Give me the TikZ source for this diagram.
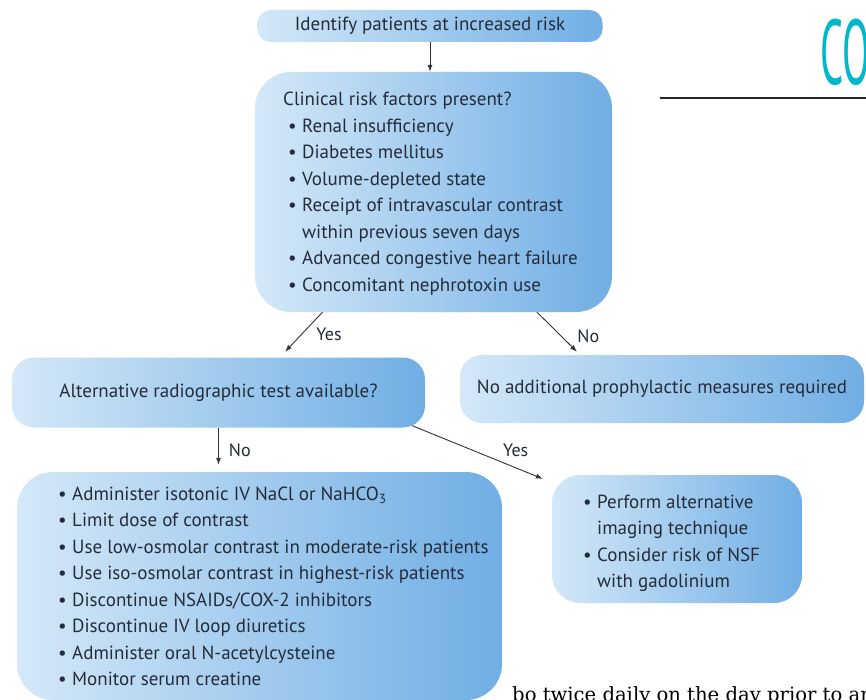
\documentclass[tikz,border=0pt]{standalone}
\usepackage{fontspec}
\setsansfont{PT Sans}
\newfontfamily\pagefont{DejaVu Serif}
\usetikzlibrary{positioning,arrows.meta}

\definecolor{boxlight}{RGB}{212,232,248}
\definecolor{boxdark}{RGB}{112,174,228}
\definecolor{inktext}{RGB}{36,44,58}
\definecolor{coteal}{RGB}{0,184,200}

\newcommand{\bul}{\makebox[14pt][l]{\textbullet}}
\newcommand{\hang}{\makebox[14pt]{}}

\tikzset{
    flowbox/.style={rounded corners=#1, left color=boxlight, right color=boxdark, draw=none,
        text=inktext, font=\sffamily\fontsize{19}{22}\selectfont, inner sep=0pt},
    listtext/.style={text=inktext, font=\sffamily\fontsize{19}{26.5}\selectfont,
        align=left, inner sep=0pt},
    flowarrow/.style={-{Latex[length=7pt,width=5pt]}, line width=0.9pt, black!80},
    answer/.style={text=inktext, font=\sffamily\fontsize{18}{20}\selectfont, inner sep=0pt}
}

\begin{document}
\begin{tikzpicture}[x=1pt,y=-1pt]
    \clip (0,0) rectangle (866,700);
    \fill[white] (0,0) rectangle (866,700);

    \node[flowbox=13pt, minimum width=345pt, minimum height=32pt] (risk) at (430,26) {Identify patients at increased risk};
    \node[flowbox=36pt, minimum width=357pt, minimum height=240pt] (clin) at (433.5,192) {};
    \node[listtext, anchor=north west] (clinlist) at (283,92) {Clinical risk factors present?\\
        \hspace*{5pt}\bul Renal insufficiency\\
        \hspace*{5pt}\bul Diabetes mellitus\\
        \hspace*{5pt}\bul Volume-depleted state\\
        \hspace*{5pt}\bul Receipt of intravascular contrast\\
        \hspace*{5pt}\hang within previous seven days\\
        \hspace*{5pt}\bul Advanced congestive heart failure\\
        \hspace*{5pt}\bul Concomitant nephrotoxin use};

    \node[flowbox=22pt, minimum width=413pt, minimum height=70pt] (alt) at (218.5,392.5) {Alternative radiographic test available?};
    \node[flowbox=22pt, minimum width=404pt, minimum height=68pt] (noadd) at (662,389) {No additional prophylactic measures required};

    \node[flowbox=36pt, minimum width=485pt, minimum height=228pt] (prev) at (259.5,586) {};
    \node[listtext, anchor=north west] (prevlist) at (58,486.5) {\bul Administer isotonic IV NaCl or NaHCO\textsubscript{3}\\
        \bul Limit dose of contrast\\
        \bul Use low-osmolar contrast in moderate-risk patients\\
        \bul Use iso-osmolar contrast in highest-risk patients\\
        \bul Discontinue NSAIDs/COX-2 inhibitors\\
        \bul Discontinue IV loop diuretics\\
        \bul Administer oral N-acetylcysteine\\
        \bul Monitor serum creatine};

    \node[flowbox=28pt, minimum width=250pt, minimum height=128pt] (imag) at (677,539) {};
    \node[listtext, anchor=north west] (imaglist) at (583,494.5) {\bul Perform alternative\\
        \hang imaging technique\\
        \bul Consider risk of NSF\\
        \hang with gadolinium};

    \draw[flowarrow] (risk.south) -- (risk.south |- clin.north);
    \draw[flowarrow] ([xshift=-111pt]clin.south) -- node[answer, pos=0.55, right=14pt]{Yes} ([xshift=66.5pt,yshift=5.5pt]alt.north);
    \draw[flowarrow] ([xshift=103.5pt]clin.south) -- node[answer, pos=0.6, right=16pt]{No} ([xshift=-85pt,yshift=3pt]noadd.north);
    \draw[flowarrow, shorten >=7pt] (alt.south) -- node[answer, right=10pt]{No} (alt.south |- prev.north);
    \draw[flowarrow] ([xshift=-13pt,yshift=2pt]alt.south east) -- node[answer, pos=0.6, anchor=south west, xshift=12pt]{Yes} ([xshift=-9pt,yshift=-4pt]imag.north west);

    \node[text=coteal, font=\sffamily\fontsize{92}{92}\selectfont, xscale=0.44, anchor=north west, inner sep=0pt] (chapter) at (820,19) {CO};
    \coordinate (rulestart) at (660,98);
    \draw[black!85, line width=1.2pt] (rulestart) -- (rulestart -| chapter.east);
    \node[font=\pagefont\fontsize{19.6}{20}\selectfont, anchor=base west, inner sep=0pt] (bodytext) at (512,701) {bo twice daily on the day prior to an};
\end{tikzpicture}
\end{document}
